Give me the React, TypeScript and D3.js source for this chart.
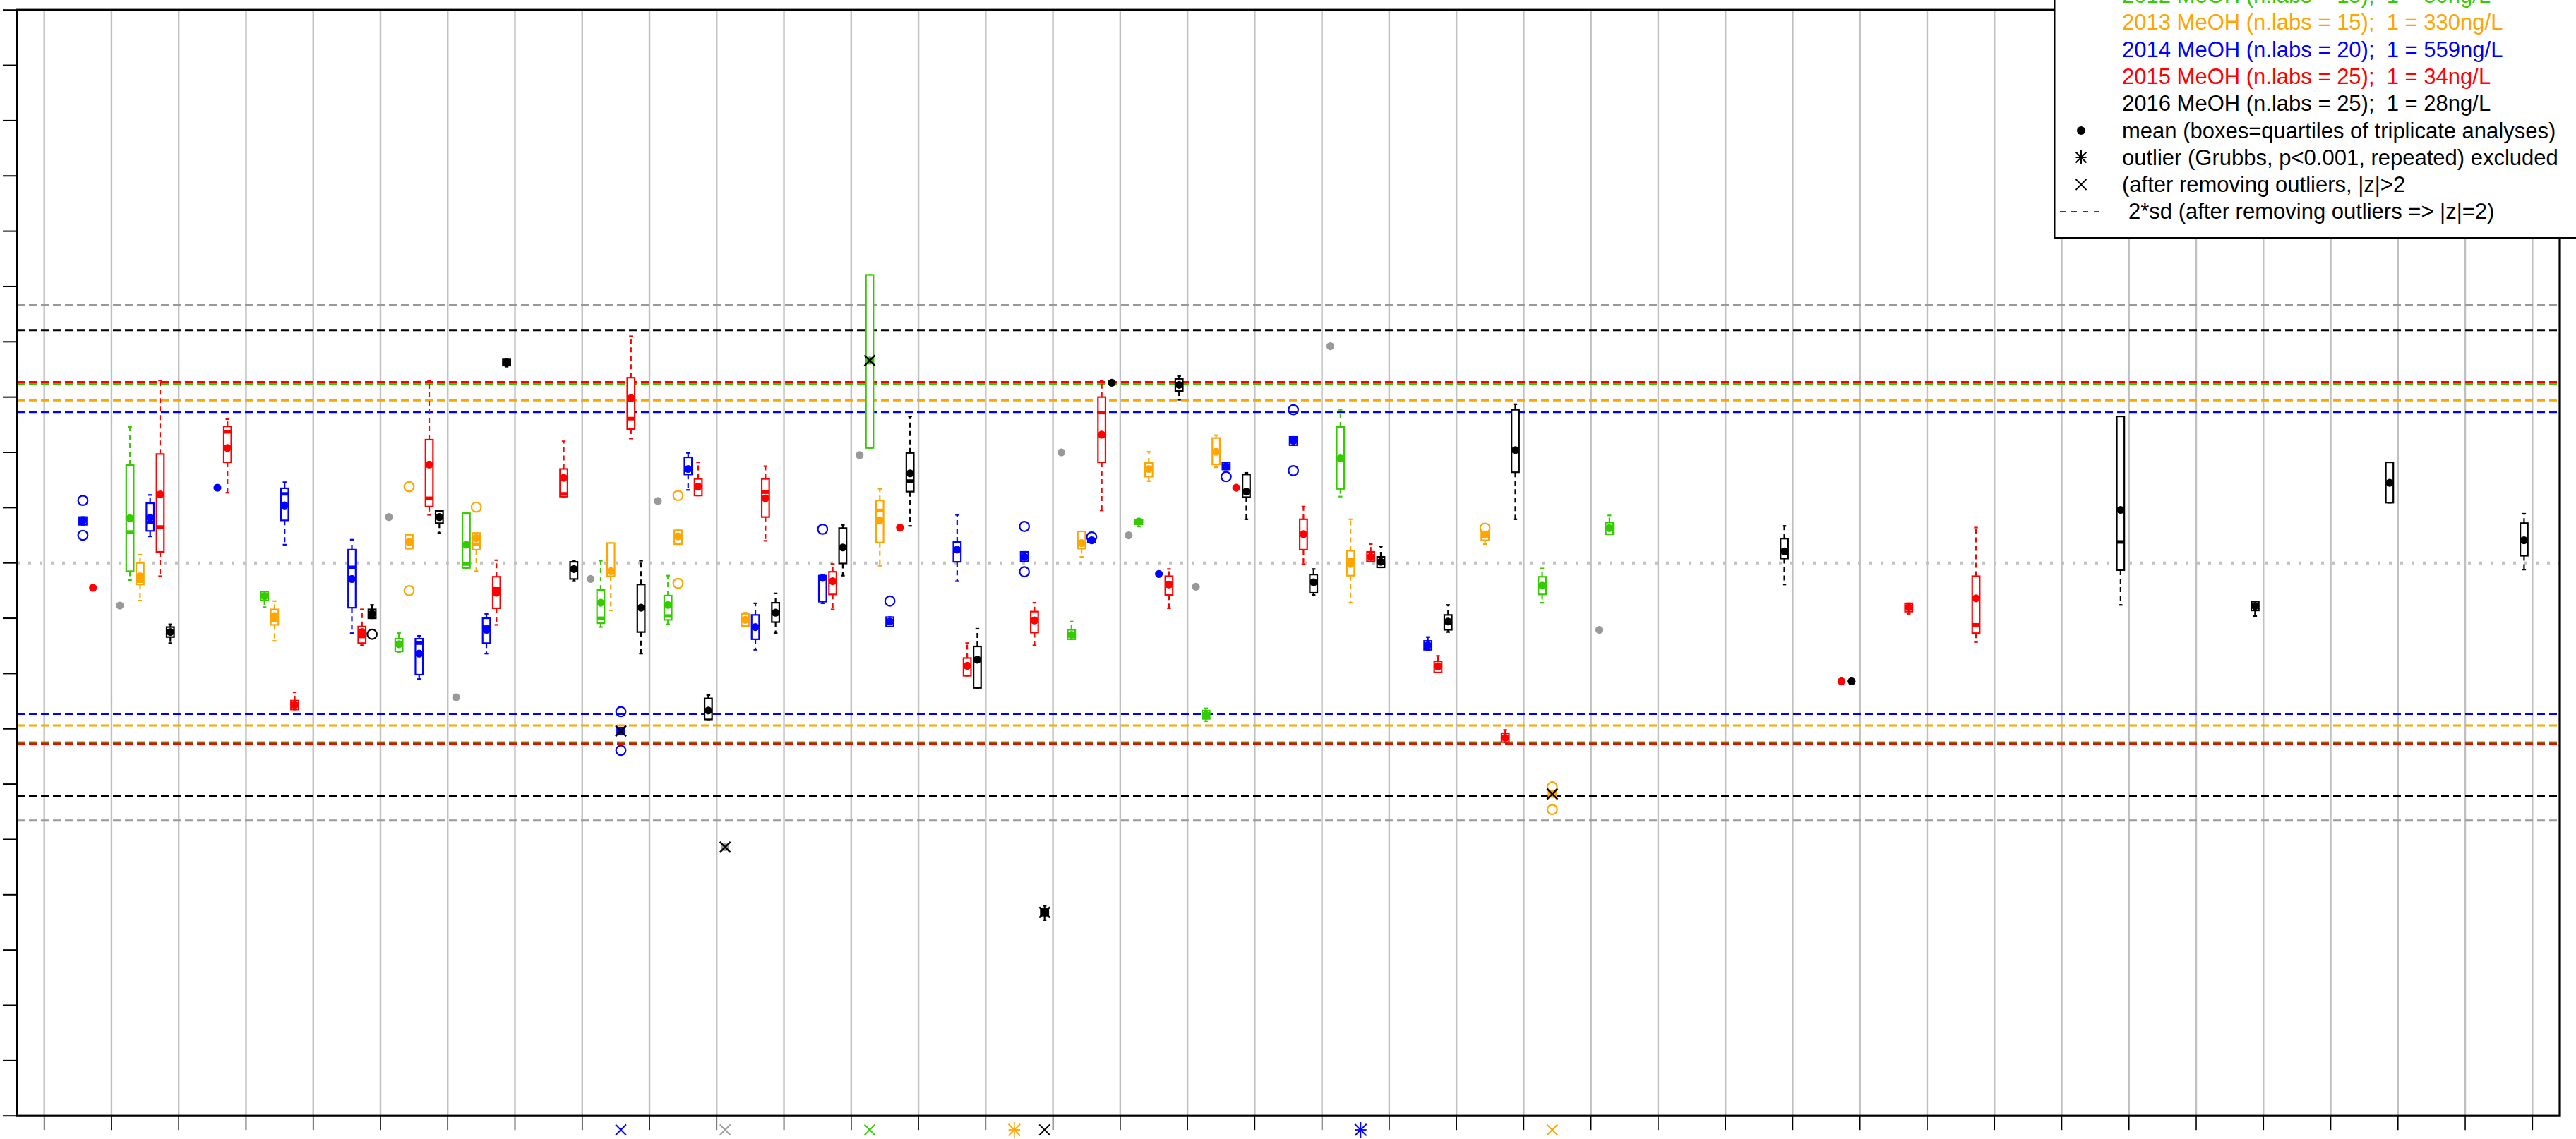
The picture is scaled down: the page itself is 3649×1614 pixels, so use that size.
import React from 'react';
import * as d3 from 'd3';

type Rec = { lab: number; mean: number; q1?: number; med?: number; q3?: number; lo?: number; hi?: number; out?: number[]; flag?: boolean };

const W = 3649;
const H = 1614;
const labs = d3.range(1, 39);
const yTicks = d3.range(-10, 11);

const gray2011: Rec[] = [
  { lab: 2, mean: -0.77 }, { lab: 6, mean: 0.83 }, { lab: 7, mean: -2.43 }, { lab: 9, mean: -0.29 },
  { lab: 10, mean: 1.12 }, { lab: 11, mean: -5.14, flag: true }, { lab: 13, mean: 1.95 }, { lab: 16, mean: 2.0 },
  { lab: 17, mean: 0.5 }, { lab: 18, mean: -0.43 }, { lab: 20, mean: 3.92 }, { lab: 24, mean: -1.21 },
];

const green2012: Rec[] = [
  { lab: 2, q1: -0.15, med: 0.56, q3: 1.77, mean: 0.81, lo: -0.31, hi: 2.46 },
  { lab: 4, q1: -0.68, q3: -0.52, mean: -0.6, lo: -0.8, hi: -0.52 },
  { lab: 6, q1: -1.6, q3: -1.37, mean: -1.47, lo: -1.61, hi: -1.27 },
  { lab: 7, q1: -0.09, med: -0.02, q3: 0.9, mean: 0.33 },
  { lab: 9, q1: -1.09, med: -1.0, q3: -0.49, mean: -0.72, lo: -1.16, hi: 0.04 },
  { lab: 10, q1: -1.03, med: -0.96, q3: -0.59, mean: -0.76, lo: -1.11, hi: -0.23 },
  { lab: 13, q1: 2.08, med: 3.66, q3: 5.21, mean: 3.66, flag: true },
  { lab: 16, q1: -1.38, q3: -1.21, mean: -1.3, hi: -1.06 },
  { lab: 17, q1: 0.7, q3: 0.78, mean: 0.75, lo: 0.66 },
  { lab: 18, q1: -2.82, q3: -2.67, mean: -2.75, lo: -2.86, hi: -2.63 },
  { lab: 20, q1: 1.34, q3: 2.46, mean: 1.89, lo: 1.2, hi: 2.77 },
  { lab: 23, q1: -0.57, q3: -0.25, mean: -0.41, lo: -0.72, hi: -0.1 },
  { lab: 24, q1: 0.52, q3: 0.73, mean: 0.63, hi: 0.86 },
];

const orange2013: Rec[] = [
  { lab: 2, q1: -0.39, med: -0.33, q3: 0.0, mean: -0.24, lo: -0.68, hi: 0.15 },
  { lab: 4, q1: -1.12, med: -1.04, q3: -0.84, mean: -0.96, lo: -1.41, hi: -0.69 },
  { lab: 6, q1: 0.26, q3: 0.51, mean: 0.38, out: [1.38, -0.5] },
  { lab: 7, q1: 0.24, med: 0.34, q3: 0.54, mean: 0.45, lo: -0.15, out: [1.01] },
  { lab: 9, q1: -0.24, q3: 0.36, mean: -0.15, lo: -0.86 },
  { lab: 10, q1: 0.34, q3: 0.59, mean: 0.48, out: [1.22, -0.37] },
  { lab: 11, q1: -1.14, q3: -0.92, mean: -1.03, hi: -0.9 },
  { lab: 13, q1: 0.37, med: 0.95, q3: 1.13, mean: 0.77, lo: -0.05, hi: 1.34 },
  { lab: 16, q1: 0.26, q3: 0.57, mean: 0.36, lo: 0.11 },
  { lab: 17, q1: 1.56, q3: 1.81, mean: 1.7, lo: 1.48, hi: 2.01 },
  { lab: 18, q1: 1.78, q3: 2.26, mean: 2.01, lo: 1.73, hi: 2.31 },
  { lab: 20, q1: -0.23, med: 0.06, q3: 0.22, mean: -0.02, lo: -0.72, hi: 0.79 },
  { lab: 22, q1: 0.41, q3: 0.57, mean: 0.51, lo: 0.34, out: [0.63] },
  { lab: 23, q1: -4.22, q3: -4.14, mean: -4.18, out: [-4.05, -4.46], flag: true },
];

const blue2014: Rec[] = [
  { lab: 1, q1: 0.69, q3: 0.83, mean: 0.77, out: [1.13, 0.5] },
  { lab: 2, q1: 0.58, med: 0.73, q3: 1.08, mean: 0.82, lo: 0.48, hi: 1.23 },
  { lab: 3, mean: 1.36 },
  { lab: 4, q1: 0.77, med: 1.25, q3: 1.35, mean: 1.04, lo: 0.33, hi: 1.46 },
  { lab: 5, q1: -0.81, med: -0.08, q3: 0.24, mean: -0.29, lo: -1.27, hi: 0.42 },
  { lab: 6, q1: -2.02, med: -1.45, q3: -1.37, mean: -1.64, lo: -2.1, hi: -1.32 },
  { lab: 7, q1: -1.45, med: -1.16, q3: -1.0, mean: -1.21, lo: -1.64, hi: -0.92 },
  { lab: 9, q1: -3.1, q3: -2.98, mean: -3.04, out: [-2.69, -3.39], flag: true },
  { lab: 10, q1: 1.6, q3: 1.91, mean: 1.7, lo: 1.32, hi: 1.99 },
  { lab: 11, q1: -1.38, q3: -0.94, mean: -1.16, lo: -1.57, hi: -0.73 },
  { lab: 12, q1: -0.7, q3: -0.23, mean: -0.27, lo: -0.73, out: [0.61] },
  { lab: 13, q1: -1.15, q3: -0.98, mean: -1.06, out: [-0.69] },
  { lab: 14, q1: 0.02, q3: 0.38, mean: 0.24, lo: -0.33, hi: 0.87 },
  { lab: 15, q1: 0.03, q3: 0.2, mean: 0.11, out: [0.66, -0.16] },
  { lab: 16, q1: 0.38, q3: 0.43, mean: 0.41, out: [0.47] },
  { lab: 17, mean: -0.2 },
  { lab: 18, q1: 1.69, q3: 1.82, mean: 1.75, out: [1.56] },
  { lab: 19, q1: 2.13, q3: 2.28, mean: 2.21, out: [2.77, 1.67] },
  { lab: 21, q1: -1.57, q3: -1.41, mean: -1.49, hi: -1.34 },
];

const red2015: Rec[] = [
  { lab: 1, mean: -0.45 },
  { lab: 2, q1: 0.2, med: 0.65, q3: 1.97, mean: 1.24, lo: -0.24, hi: 3.3 },
  { lab: 3, q1: 1.82, med: 2.37, q3: 2.47, mean: 2.08, lo: 1.27, hi: 2.6 },
  { lab: 4, q1: -2.65, q3: -2.49, mean: -2.57, hi: -2.34 },
  { lab: 5, q1: -1.45, med: -1.33, q3: -1.15, mean: -1.25, lo: -1.49, hi: -0.84 },
  { lab: 6, q1: 1.02, med: 1.17, q3: 2.23, mean: 1.78, lo: 0.87, hi: 3.3 },
  { lab: 7, q1: -0.82, med: -0.47, q3: -0.25, mean: -0.54, lo: -1.12, hi: 0.05 },
  { lab: 8, q1: 1.2, med: 1.25, q3: 1.7, mean: 1.54, hi: 2.2 },
  { lab: 9, q1: 2.42, med: 2.61, q3: 3.35, mean: 2.98, lo: 2.25, hi: 4.1 },
  { lab: 10, q1: 1.22, q3: 1.52, mean: 1.38, hi: 1.82 },
  { lab: 11, q1: 0.83, med: 1.28, q3: 1.52, mean: 1.17, lo: 0.4, hi: 1.75 },
  { lab: 12, q1: -0.57, q3: -0.16, mean: -0.33, lo: -0.84, hi: -0.02 },
  { lab: 13, mean: 0.64 },
  { lab: 14, q1: -2.04, q3: -1.72, mean: -1.86, hi: -1.45 },
  { lab: 15, q1: -1.26, q3: -0.88, mean: -1.04, lo: -1.49, hi: -0.72 },
  { lab: 16, q1: 1.82, med: 2.72, q3: 3.0, mean: 2.32, lo: 0.95, hi: 3.3 },
  { lab: 17, q1: -0.58, q3: -0.24, mean: -0.39, lo: -0.82, hi: -0.11 },
  { lab: 18, mean: 1.36 },
  { lab: 19, q1: 0.24, q3: 0.79, mean: 0.52, lo: -0.02, hi: 1.02 },
  { lab: 20, q1: 0.03, q3: 0.2, mean: 0.11, hi: 0.34 },
  { lab: 21, q1: -1.98, q3: -1.78, mean: -1.87, hi: -1.68 },
  { lab: 22, q1: -3.24, q3: -3.08, mean: -3.16, hi: -3.02 },
  { lab: 27, mean: -2.14 },
  { lab: 28, q1: -0.88, q3: -0.73, mean: -0.8, lo: -0.92 },
  { lab: 29, q1: -1.27, med: -1.12, q3: -0.24, mean: -0.64, lo: -1.43, hi: 0.64 },
];

const black2016: Rec[] = [
  { lab: 2, q1: -1.34, q3: -1.16, mean: -1.25, lo: -1.45, hi: -1.11 },
  { lab: 5, q1: -1.0, q3: -0.84, mean: -0.92, hi: -0.76, out: [-1.29] },
  { lab: 6, q1: 0.72, q3: 0.94, mean: 0.83, lo: 0.54 },
  { lab: 7, q1: 3.57, q3: 3.68, mean: 3.62, lo: 3.55 },
  { lab: 8, q1: -0.29, q3: 0.02, mean: -0.11, lo: -0.33, hi: 0.04 },
  { lab: 9, q1: -1.25, q3: -0.39, mean: -0.81, lo: -1.64, hi: 0.04 },
  { lab: 10, q1: -2.83, q3: -2.45, mean: -2.67, hi: -2.39 },
  { lab: 11, q1: -1.07, q3: -0.72, mean: -0.9, lo: -1.27, hi: -0.55 },
  { lab: 12, q1: -0.01, q3: 0.63, mean: 0.28, lo: -0.23, hi: 0.69 },
  { lab: 13, q1: 1.29, med: 1.48, q3: 1.99, mean: 1.62, lo: 0.67, hi: 2.65 },
  { lab: 14, q1: -2.26, q3: -1.51, mean: -1.75, hi: -1.19 },
  { lab: 15, q1: -6.38, q3: -6.26, mean: -6.32, lo: -6.46, hi: -6.2, flag: true },
  { lab: 16, mean: 3.26 },
  { lab: 17, q1: 3.11, q3: 3.33, mean: 3.22, lo: 2.95, hi: 3.38 },
  { lab: 18, q1: 1.19, q3: 1.6, mean: 1.29, lo: 0.79, hi: 1.63 },
  { lab: 19, q1: -0.54, q3: -0.21, mean: -0.35, lo: -0.58, hi: -0.11 },
  { lab: 20, q1: -0.08, q3: 0.11, mean: 0.02, hi: 0.3 },
  { lab: 21, q1: -1.21, q3: -0.94, mean: -1.06, lo: -1.25, hi: -0.76 },
  { lab: 22, q1: 1.64, q3: 2.77, mean: 2.04, lo: 0.79, hi: 2.87 },
  { lab: 26, q1: 0.08, q3: 0.44, mean: 0.21, lo: -0.39, hi: 0.67 },
  { lab: 27, mean: -2.14 },
  { lab: 31, q1: -0.13, med: 0.38, q3: 2.65, mean: 0.96, lo: -0.76 },
  { lab: 33, q1: -0.86, q3: -0.7, mean: -0.78, lo: -0.96 },
  { lab: 35, q1: 1.09, q3: 1.82, mean: 1.45 },
  { lab: 37, q1: 0.13, q3: 0.72, mean: 0.41, lo: -0.12, hi: 0.89 },
];

const seriesColors = ['#999999', '#33cc00', '#ffa500', '#0000ff', '#ff0000', '#000000'];
const seriesData = [gray2011, green2012, orange2013, blue2014, red2015, black2016];
const sdLimits = [4.66, 3.245, 2.94, 2.73, 3.27, 4.21];
const sdDrawOrder = [0, 5, 1, 4, 2, 3];

// markers below the axis: [lab, series index, symbol]
const bottomMarks: [number, number, string][] = [
  [9, 3, 'x'], [11, 0, 'x'], [13, 1, 'x'], [15, 2, '*'], [15, 5, 'x'], [20, 3, '*'], [23, 2, 'x'],
];

const legendLabels = [
  '2012 MeOH (n.labs = 15);  1 = 80ng/L',
  '2013 MeOH (n.labs = 15);  1 = 330ng/L',
  '2014 MeOH (n.labs = 20);  1 = 559ng/L',
  '2015 MeOH (n.labs = 25);  1 = 34ng/L',
  '2016 MeOH (n.labs = 25);  1 = 28ng/L',
  'mean (boxes=quartiles of triplicate analyses)',
  'outlier (Grubbs, p<0.001, repeated) excluded',
  '(after removing outliers, |z|>2',
  '2*sd (after removing outliers => |z|=2)',
];
const legendColors = ['#33cc00', '#ffa500', '#0000ff', '#ff0000', '#000000', '#000000', '#000000', '#000000', '#000000'];

const PL = 24, PR = 3626, PT = 14.2, PB = 1581.2;
const FONT = "'Liberation Sans', Arial, Helvetica, sans-serif";

const x = d3.scaleLinear().domain([0.594, 38.406]).range([PL, PR]);
const y = d3.scaleLinear().domain([-10, 10]).range([PB, PT]);
const xPos = (lab: number, k: number) => x(lab + 0.125 + 0.15 * k);

const Cross = ({ cx, cy, s, color, w }: { cx: number; cy: number; s: number; color: string; w: number }) => (
  <g stroke={color} strokeWidth={w}>
    <line x1={cx - s} y1={cy - s} x2={cx + s} y2={cy + s} />
    <line x1={cx - s} y1={cy + s} x2={cx + s} y2={cy - s} />
  </g>
);

const Star = ({ cx, cy, s, color, w }: { cx: number; cy: number; s: number; color: string; w: number }) => (
  <g stroke={color} strokeWidth={w}>
    <line x1={cx - s * 0.75} y1={cy - s * 0.75} x2={cx + s * 0.75} y2={cy + s * 0.75} />
    <line x1={cx - s * 0.75} y1={cy + s * 0.75} x2={cx + s * 0.75} y2={cy - s * 0.75} />
    <line x1={cx} y1={cy - s} x2={cx} y2={cy + s} />
    <line x1={cx - s * 0.75} y1={cy} x2={cx + s * 0.75} y2={cy} />
  </g>
);

function Item({ r, k }: { r: Rec; k: number }) {
  const c = seriesColors[k];
  const cx = xPos(r.lab, k);
  const hw = 5.3;
  const cap = 2.7;
  const parts: React.ReactNode[] = [];
  if (r.q1 !== undefined && r.q3 !== undefined) {
    const lo = r.lo !== undefined ? r.lo : r.q1;
    const hi = r.hi !== undefined ? r.hi : r.q3;
    const med = r.med !== undefined ? r.med : r.mean;
    parts.push(
      <line key="wh" x1={cx} x2={cx} y1={y(r.q3)} y2={y(hi)} stroke={c} strokeWidth={2.2} strokeDasharray="7 5" />,
      <line key="wl" x1={cx} x2={cx} y1={y(r.q1)} y2={y(lo)} stroke={c} strokeWidth={2.2} strokeDasharray="7 5" />,
      <line key="ch" x1={cx - cap} x2={cx + cap} y1={y(hi)} y2={y(hi)} stroke={c} strokeWidth={2.2} />,
      <line key="cl" x1={cx - cap} x2={cx + cap} y1={y(lo)} y2={y(lo)} stroke={c} strokeWidth={2.2} />,
      <rect key="bx" x={cx - hw} y={y(r.q3)} width={hw * 2} height={Math.max(0.5, y(r.q1) - y(r.q3))} fill="#fff" stroke={c} strokeWidth={2.2} />,
      <line key="md" x1={cx - hw} x2={cx + hw} y1={y(med)} y2={y(med)} stroke={c} strokeWidth={5} />,
    );
  }
  (r.out || []).forEach((o, i) => parts.push(<circle key={'o' + i} cx={cx} cy={y(o)} r={6.8} fill="none" stroke={c} strokeWidth={2.2} />));
  parts.push(<circle key="mn" cx={cx} cy={y(r.mean)} r={5.6} fill={c} />);
  if (r.flag) parts.push(<Cross key="fx" cx={cx} cy={y(r.mean)} s={7.5} color="#000" w={2.4} />);
  return <g>{parts}</g>;
}

export default function App() {
  return (
    <svg width={W} height={H} viewBox={`0 0 ${W} ${H}`} style={{ position: 'absolute', left: 0, top: 0, display: 'block', background: '#fff' }} fontFamily={FONT}>
      <rect x={0} y={0} width={W} height={H} fill="#fff" />
      {/* vertical grid */}
      {labs.map((l) => (
        <line key={'g' + l} x1={x(l)} x2={x(l)} y1={PT} y2={PB} stroke="#c0c0c0" strokeWidth={2.4} />
      ))}
      {/* zero line */}
      <line x1={PL} x2={PR} y1={y(0)} y2={y(0)} stroke="#c0c0c0" strokeWidth={4} strokeDasharray="4 12" />
      {/* 2*sd lines */}
      {sdDrawOrder.map((k) => (
        <g key={'sd' + k}>
          <line x1={PL} x2={PR} y1={y(sdLimits[k])} y2={y(sdLimits[k])} stroke={seriesColors[k]} strokeWidth={3} strokeDasharray="11 6" />
          <line x1={PL} x2={PR} y1={y(-sdLimits[k])} y2={y(-sdLimits[k])} stroke={seriesColors[k]} strokeWidth={3} strokeDasharray="11 6" />
        </g>
      ))}
      {/* data */}
      {seriesData.map((arr, k) => (
        <g key={'s' + k}>
          {arr.map((r, i) => (
            <Item key={i} r={r} k={k} />
          ))}
        </g>
      ))}
      {/* axes */}
      {yTicks.map((t) => (
        <line key={'yt' + t} x1={4} x2={PL} y1={y(t)} y2={y(t)} stroke="#000" strokeWidth={2} />
      ))}
      {labs.map((l) => (
        <line key={'xt' + l} x1={x(l)} x2={x(l)} y1={PB} y2={PB + 20} stroke="#000" strokeWidth={1.6} />
      ))}
      <rect x={PL} y={PT} width={PR - PL} height={PB - PT} fill="none" stroke="#000" strokeWidth={3.2} />
      {/* bottom markers */}
      {bottomMarks.map(([lab, k, s], i) =>
        s === 'x' ? (
          <Cross key={'bm' + i} cx={xPos(lab, k)} cy={1601} s={7.5} color={seriesColors[k]} w={1.8} />
        ) : (
          <Star key={'bm' + i} cx={xPos(lab, k)} cy={1601} s={11} color={seriesColors[k]} w={1.8} />
        ),
      )}
      {/* legend */}
      <rect x={2910.5} y={-200} width={800} height={537} fill="#fff" stroke="#000" strokeWidth={2} />
      {legendLabels.map((t, i) => (
        <text key={'lg' + i} x={i === 8 ? 3015 : 3006} y={4 + 38.3 * i} fontSize={31} fill={legendColors[i]} style={{ whiteSpace: 'pre' }}>
          {t}
        </text>
      ))}
      <circle cx={2948} cy={185} r={6} fill="#000" />
      <Star cx={2948} cy={223} s={10} color="#000" w={2} />
      <Cross cx={2948} cy={261.5} s={7.5} color="#000" w={1.8} />
      <line x1={2918} x2={2976} y1={300} y2={300} stroke="#000" strokeWidth={1.6} strokeDasharray="8 8" />
    </svg>
  );
}
